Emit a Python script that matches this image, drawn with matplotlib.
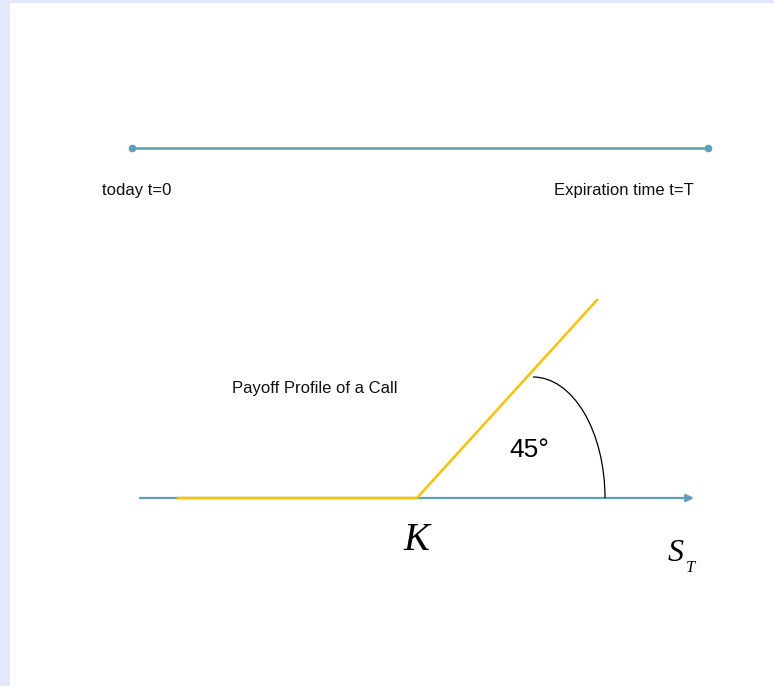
import matplotlib
matplotlib.use("Agg")
import matplotlib.pyplot as plt
from matplotlib.patches import Arc, Rectangle

# ---- data (diagram coordinates, pixel-like units, y grows downward) ----
timeline_x = [132, 708]
timeline_y = [148, 148]
timeline_labels = ["today t=0", "Expiration time t=T"]

axis_x = [140, 694]
axis_y = 498

payoff_S = [178, 417, 597]
payoff_val = [0, 0, 198]

strike_label = "K"
angle_label = "45°"
title_label = "Payoff Profile of a Call"

BLUE = "#5c9fb8"
GOLD = "#ffc000"
BORDER = "#e3e9fa"

fig = plt.figure(figsize=(7.74, 6.86), dpi=100)
ax = fig.add_axes([0, 0, 1, 1])
ax.set_xlim(0, 774)
ax.set_ylim(686, 0)
ax.axis("off")

# page border
ax.add_patch(Rectangle((0, 0), 10, 686, color=BORDER, lw=0, zorder=0))
ax.add_patch(Rectangle((0, 0), 774, 3, color=BORDER, lw=0, zorder=0))

# timeline
ax.plot(timeline_x, timeline_y, color=BLUE, lw=1.8, marker="o", ms=4.5,
        solid_capstyle="butt", zorder=2)
ax.text(102, 195, timeline_labels[0], fontsize=12, family="Liberation Sans",
        ha="left", va="baseline", color="#111111")
ax.text(554, 195, timeline_labels[1], fontsize=12, family="Liberation Sans",
        ha="left", va="baseline", color="#111111")

# S_T axis with arrow
ax.annotate("", xy=(axis_x[1], axis_y), xytext=(axis_x[0], axis_y),
            arrowprops=dict(arrowstyle="-|>,head_length=0.45,head_width=0.22",
                            color=BLUE, lw=1.6, shrinkA=0, shrinkB=0),
            zorder=2)

# payoff profile
ax.plot(payoff_S, [axis_y - v for v in payoff_val], color=GOLD, lw=1.8,
        solid_joinstyle="miter", zorder=3)

# angle arc
ax.add_patch(Arc((533, axis_y), 144, 242, theta1=270, theta2=360,
                 color="black", lw=0.9, zorder=4))

ax.text(509, 457, angle_label, fontsize=19, family="Liberation Sans",
        ha="left", va="baseline", color="black")
ax.text(232, 393, title_label, fontsize=12, family="Liberation Sans",
        ha="left", va="baseline", color="#111111")

ax.text(403, 550, strike_label, fontsize=28, family="Liberation Serif",
        style="italic", ha="left", va="baseline", color="black")
ax.text(668, 561, "S", fontsize=23, family="Liberation Serif",
        style="italic", ha="left", va="baseline", color="black")
ax.text(686, 572, "T", fontsize=12, family="Liberation Serif",
        style="italic", ha="left", va="baseline", color="black")

fig.savefig("out.png", dpi=100)
